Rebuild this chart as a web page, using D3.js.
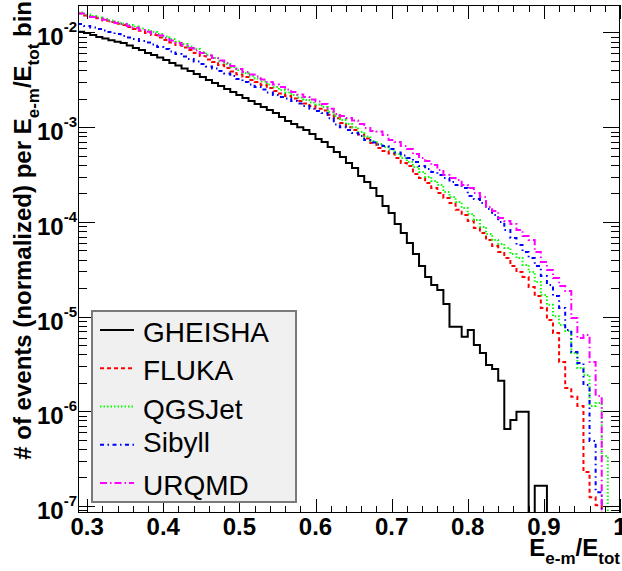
<!DOCTYPE html>
<html>
<head>
<meta charset="utf-8">
<title>E_e-m / E_tot</title>
<script src="https://d3js.org/d3.v7.min.js"></script>
<style>
  body { margin: 0; background: #fff; }
  svg text { font-family: "Liberation Sans", Arial, sans-serif; }
  .tlabel { font-weight: bold; font-size: 24px; }
  .atitle { font-weight: bold; font-size: 24px; }
  .ltext { font-size: 28px; }
</style>
</head>
<body>
<script>
// histogram binning (bins of 0.008, first visible bin starts at 0.288)
var binStart = 0.288, binWidth = 0.008;

var gheisha = [1.02e-2, 9.88e-3, 9.41e-3, 8.96e-3, 8.64e-3, 8.3e-3, 8.0e-3, 7.74e-3, 7.29e-3, 6.86e-3,
  6.53e-3, 6.07e-3, 5.78e-3, 5.44e-3, 5.12e-3, 4.76e-3, 4.48e-3, 4.17e-3, 3.92e-3, 3.65e-3,
  3.39e-3, 3.15e-3, 2.93e-3, 2.72e-3, 2.53e-3, 2.35e-3, 2.19e-3, 2.03e-3, 1.89e-3, 1.76e-3,
  1.63e-3, 1.52e-3, 1.41e-3, 1.28e-3, 1.16e-3, 1.08e-3, 1.00e-3, 9.34e-4, 8.48e-4, 7.50e-4,
  6.98e-4, 6.18e-4, 5.47e-4, 4.84e-4, 4.19e-4, 3.71e-4, 3.05e-4, 2.64e-4, 2.28e-4, 1.88e-4,
  1.47e-4, 1.24e-4, 9.50e-5, 7.63e-5, 5.99e-5, 4.58e-5, 3.42e-5, 2.62e-5, 2.16e-5, 1.91e-5,
  1.36e-5, 7.82e-6, 7.82e-6, 6.14e-6, 7.22e-6, 5.01e-6, 4.13e-6, 3.08e-6, 2.80e-6, 2.10e-6,
  6.50e-7, 8.09e-7, 9.90e-7, 9.90e-7, 0, 1.64e-7, 1.64e-7, 0, 0, 0,
  0, 0, 0, 0, 0, 0, 0, 0, 0];

var fluka = [1.59e-2, 1.51e-2, 1.46e-2, 1.41e-2, 1.34e-2, 1.29e-2, 1.24e-2, 1.20e-2, 1.14e-2, 1.09e-2,
  1.04e-2, 9.88e-3, 9.41e-3, 8.86e-3, 8.33e-3, 7.84e-3, 7.38e-3, 6.94e-3, 6.53e-3, 6.07e-3,
  5.65e-3, 5.19e-3, 4.88e-3, 4.54e-3, 4.22e-3, 3.88e-3, 3.60e-3, 3.39e-3, 3.15e-3, 3.00e-3,
  2.79e-3, 2.59e-3, 2.41e-3, 2.27e-3, 2.14e-3, 2.01e-3, 1.89e-3, 1.78e-3, 1.67e-3, 1.57e-3,
  1.50e-3, 1.35e-3, 1.24e-3, 1.11e-3, 1.00e-3, 9.34e-4, 8.38e-4, 7.60e-4, 6.81e-4, 6.03e-4,
  5.61e-4, 5.28e-4, 4.73e-4, 4.19e-4, 3.89e-4, 3.20e-4, 2.91e-4, 2.57e-4, 2.28e-4, 2.02e-4,
  1.79e-4, 1.58e-4, 1.34e-4, 1.18e-4, 1.02e-4, 8.62e-5, 7.63e-5, 6.44e-5, 5.56e-5, 4.81e-5,
  4.16e-5, 3.42e-5, 2.96e-5, 2.62e-5, 2.05e-5, 1.65e-5, 1.23e-5, 9.20e-6, 6.71e-6, 3.31e-6,
  1.76e-6, 1.42e-6, 1.14e-6, 2.29e-7, 1.24e-7, 1.02e-7, 0, 0, 0];

var qgsjet = [1.63e-2, 1.55e-2, 1.49e-2, 1.44e-2, 1.39e-2, 1.34e-2, 1.29e-2, 1.24e-2, 1.20e-2, 1.16e-2,
  1.10e-2, 1.06e-2, 1.01e-2, 9.64e-3, 9.07e-3, 8.54e-3, 8.04e-3, 7.56e-3, 7.11e-3, 6.70e-3,
  6.22e-3, 5.78e-3, 5.38e-3, 5.00e-3, 4.65e-3, 4.32e-3, 4.02e-3, 3.74e-3, 3.47e-3, 3.27e-3,
  3.04e-3, 2.82e-3, 2.66e-3, 2.47e-3, 2.32e-3, 2.19e-3, 2.06e-3, 1.94e-3, 1.82e-3, 1.74e-3,
  1.63e-3, 1.45e-3, 1.31e-3, 1.19e-3, 1.08e-3, 1.00e-3, 8.90e-4, 7.98e-4, 7.15e-4, 6.65e-4,
  6.18e-4, 5.81e-4, 5.21e-4, 4.73e-4, 4.29e-4, 3.80e-4, 3.36e-4, 2.98e-4, 2.70e-4, 2.45e-4,
  2.07e-4, 1.83e-4, 1.62e-4, 1.40e-4, 1.21e-4, 1.05e-4, 8.83e-5, 7.45e-5, 6.44e-5, 5.84e-5,
  5.30e-5, 4.58e-5, 4.16e-5, 3.51e-5, 2.96e-5, 2.32e-5, 1.69e-5, 1.33e-5, 1.01e-5, 8.15e-6,
  7.04e-6, 4.12e-6, 2.86e-6, 2.42e-6, 1.14e-6, 1.22e-6, 3.37e-7, 0, 0];

var sibyll = [1.23e-2, 1.17e-2, 1.13e-2, 1.09e-2, 1.05e-2, 1.01e-2, 9.64e-3, 9.18e-3, 8.86e-3, 8.54e-3,
  8.13e-3, 7.84e-3, 7.47e-3, 7.03e-3, 6.70e-3, 6.30e-3, 5.93e-3, 5.58e-3, 5.25e-3, 4.94e-3,
  4.65e-3, 4.38e-3, 4.17e-3, 3.92e-3, 3.69e-3, 3.47e-3, 3.23e-3, 3.00e-3, 2.82e-3, 2.66e-3,
  2.50e-3, 2.32e-3, 2.19e-3, 2.08e-3, 2.01e-3, 1.89e-3, 1.78e-3, 1.67e-3, 1.57e-3, 1.48e-3,
  1.41e-3, 1.24e-3, 1.07e-3, 1.00e-3, 9.34e-4, 8.69e-4, 8.07e-4, 7.32e-4, 6.89e-4, 6.57e-4,
  6.33e-4, 5.89e-4, 5.40e-4, 5.02e-4, 4.73e-4, 4.29e-4, 3.89e-4, 3.62e-4, 3.36e-4, 3.13e-4,
  2.91e-4, 2.64e-4, 2.45e-4, 2.28e-4, 1.88e-4, 1.74e-4, 1.58e-4, 1.37e-4, 1.18e-4, 9.97e-5,
  8.21e-5, 6.76e-5, 5.70e-5, 4.81e-5, 4.16e-5, 3.42e-5, 2.68e-5, 2.16e-5, 1.65e-5, 1.23e-5,
  7.22e-6, 4.23e-6, 3.24e-6, 1.89e-6, 4.86e-7, 1.40e-7, 0, 0, 0];

var urqmd = [1.59e-2, 1.51e-2, 1.46e-2, 1.41e-2, 1.36e-2, 1.31e-2, 1.26e-2, 1.23e-2, 1.17e-2, 1.12e-2,
  1.06e-2, 1.02e-2, 9.76e-3, 9.30e-3, 8.75e-3, 8.23e-3, 7.74e-3, 7.29e-3, 6.86e-3, 6.45e-3,
  6.07e-3, 5.72e-3, 5.38e-3, 5.06e-3, 4.76e-3, 4.43e-3, 4.12e-3, 3.83e-3, 3.60e-3, 3.43e-3,
  3.19e-3, 3.00e-3, 2.82e-3, 2.66e-3, 2.50e-3, 2.35e-3, 2.21e-3, 2.08e-3, 1.96e-3, 1.87e-3,
  1.76e-3, 1.57e-3, 1.38e-3, 1.31e-3, 1.25e-3, 1.18e-3, 1.08e-3, 9.81e-4, 9.12e-4, 9.01e-4,
  8.27e-4, 7.32e-4, 6.98e-4, 6.33e-4, 5.89e-4, 5.21e-4, 4.73e-4, 4.40e-4, 3.99e-4, 3.53e-4,
  3.13e-4, 2.91e-4, 2.77e-4, 2.45e-4, 2.28e-4, 2.02e-4, 1.83e-4, 1.44e-4, 1.30e-4, 1.10e-4,
  1.02e-4, 9.50e-5, 8.21e-5, 7.10e-5, 6.44e-5, 4.81e-5, 3.77e-5, 3.10e-5, 2.56e-5, 2.10e-5,
  1.86e-5, 9.66e-6, 5.94e-6, 6.39e-6, 3.31e-6, 1.45e-6, 0, 0, 0];

var modelNames = ["GHEISHA", "FLUKA", "QGSJet", "Sibyll", "URQMD"];
var modelValues = [gheisha, fluka, qgsjet, sibyll, urqmd];
var modelColors = ["#000000", "#ff0000", "#00ff00", "#0000ff", "#ff00ff"];
var modelDash = [null, "4,3", "1.5,2", "4,3.5,1.5,3.5", "7,3,1.5,3"];

var xTicks = [0.3, 0.4, 0.5, 0.6, 0.7, 0.8, 0.9, 1.0];
var xTickLabels = ["0.3", "0.4", "0.5", "0.6", "0.7", "0.8", "0.9", "1"];
var yDecades = [-7, -6, -5, -4, -3, -2];

var width = 622, height = 571;
var fx0 = 78, fx1 = 620, fy0 = 5, fy1 = 513;

var x = d3.scaleLinear().domain([0.288, 1.0]).range([fx0, fx1]);
var y = d3.scaleLog().domain([8.43e-8, 1.951e-2]).range([fy1, fy0]);

var svg = d3.select("body").append("svg")
  .attr("width", width)
  .attr("height", height);

svg.append("rect").attr("width", width).attr("height", height).attr("fill", "#fff");

svg.append("clipPath").attr("id", "clip")
  .append("rect")
  .attr("x", fx0).attr("y", fy0)
  .attr("width", fx1 - fx0).attr("height", fy1 - fy0);

function yPos(v) { return v > 0 ? y(v) : fy1 + 20; }

var line = d3.line()
  .x(function(d) { return x(d[0]); })
  .y(function(d) { return yPos(d[1]); })
  .curve(d3.curveStepAfter);

modelValues.forEach(function(vals, k) {
  var pts = vals.map(function(v, i) { return [binStart + i * binWidth, v]; });
  pts.push([binStart + vals.length * binWidth, vals[vals.length - 1]]);
  svg.append("path")
    .datum(pts)
    .attr("clip-path", "url(#clip)")
    .attr("fill", "none")
    .attr("stroke", modelColors[k])
    .attr("stroke-width", 2)
    .attr("stroke-dasharray", modelDash[k])
    .attr("d", line);
});

// frame
svg.append("rect")
  .attr("x", fx0 + 0.5).attr("y", fy0 + 0.5)
  .attr("width", fx1 - fx0 - 1).attr("height", fy1 - fy0 - 1)
  .attr("fill", "none").attr("stroke", "#000").attr("stroke-width", 1);

var ticks = svg.append("g").attr("stroke", "#000").attr("stroke-width", 1);

// x ticks every 0.02, major every 0.1 (bottom and top)
for (var k = 15; k <= 50; k++) {
  var xv = Math.round(x(k * 0.02)) + 0.5;
  var len = (k % 5 === 0) ? 14 : 7;
  ticks.append("line").attr("x1", xv).attr("x2", xv).attr("y1", fy1).attr("y2", fy1 - len);
  ticks.append("line").attr("x1", xv).attr("x2", xv).attr("y1", fy0).attr("y2", fy0 + len);
}

// y ticks on a log axis (left and right)
for (var d = -8; d <= -2; d++) {
  for (var m = 1; m <= 9; m++) {
    var v = m * Math.pow(10, d);
    if (v < y.domain()[0] || v > y.domain()[1]) continue;
    var yv = Math.round(y(v)) + 0.5;
    var ln = (m === 1) ? 17 : 9;
    ticks.append("line").attr("x1", fx0).attr("x2", fx0 + ln).attr("y1", yv).attr("y2", yv);
    ticks.append("line").attr("x1", fx1).attr("x2", fx1 - ln).attr("y1", yv).attr("y2", yv);
  }
}

// x tick labels
svg.selectAll(".xl").data(xTicks).enter().append("text")
  .attr("class", "tlabel")
  .attr("x", function(d) { return x(d); })
  .attr("y", 535)
  .attr("text-anchor", "middle")
  .text(function(d, i) { return xTickLabels[i]; });

// y tick labels 10^n
yDecades.forEach(function(e) {
  var t = svg.append("text")
    .attr("class", "tlabel")
    .attr("x", 77)
    .attr("y", y(Math.pow(10, e)) + 13)
    .attr("text-anchor", "end");
  t.append("tspan").text("10");
  t.append("tspan").attr("dy", -13).attr("font-size", 15).text("-" + (-e));
});

// axis titles
function titleParts(t) {
  t.append("tspan").text("E");
  t.append("tspan").attr("dy", 8).attr("font-size", 17).text("e-m");
  t.append("tspan").attr("dy", -8).text("/E");
  t.append("tspan").attr("dy", 8).attr("font-size", 17).text("tot");
}

var xt = svg.append("text").attr("class", "atitle")
  .attr("x", 620).attr("y", 556).attr("text-anchor", "end");
titleParts(xt);

var yt = svg.append("text").attr("class", "atitle")
  .attr("transform", "translate(31,1) rotate(-90)")
  .attr("text-anchor", "end");
yt.append("tspan").text("# of events (normalized) per ");
titleParts(yt);
yt.append("tspan").attr("dy", -8).text(" bin");

// legend
var lx = 92, ly = 311, lw = 204, lh = 191;
var leg = svg.append("g");
leg.append("rect")
  .attr("x", lx).attr("y", ly).attr("width", lw).attr("height", lh)
  .attr("fill", "#f0f0f0").attr("stroke", "#7a7a7a").attr("stroke-width", 2);

var rowH = lh / modelNames.length;
modelNames.forEach(function(name, i) {
  var cy = ly + rowH * (i + 0.5);
  leg.append("line")
    .attr("x1", 100).attr("x2", 134).attr("y1", cy).attr("y2", cy)
    .attr("stroke", modelColors[i]).attr("stroke-width", 2)
    .attr("stroke-dasharray", modelDash[i]);
  var shift = /[gjpqy]/.test(name) ? 7 : 12;
  leg.append("text").attr("class", "ltext")
    .attr("x", 143).attr("y", cy + shift)
    .text(name);
});
</script>
</body>
</html>
